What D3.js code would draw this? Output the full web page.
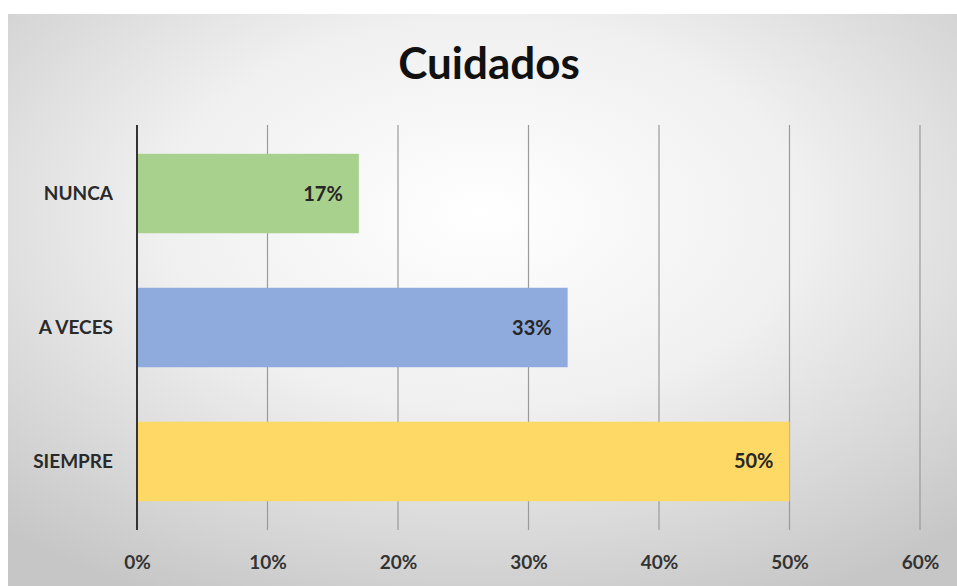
<!DOCTYPE html>
<html><head><meta charset="utf-8">
<script src="https://cdn.jsdelivr.net/npm/d3@7"></script>
<style>html,body{margin:0;padding:0;background:#fff;}svg{display:block;}</style>
</head><body>
<svg id="c" width="957" height="586"></svg>
<script>
const categories = ["NUNCA", "A VECES", "SIEMPRE"];
const values = [0.17, 0.33, 0.50];
const barColors = ["#a9d18e", "#8faadc", "#ffd966"];
const tickValues = [0, 0.1, 0.2, 0.3, 0.4, 0.5, 0.6];
const title = "Cuidados";

const svg = d3.select("#c");
const defs = svg.append("defs");
const rg = defs.append("radialGradient").attr("id","bg").attr("cx","50%").attr("cy","35%").attr("r","75%");
rg.append("stop").attr("offset","0%").attr("stop-color","#ffffff");
rg.append("stop").attr("offset","45%").attr("stop-color","#f0f0f0");
rg.append("stop").attr("offset","100%").attr("stop-color","#c6c6c6");
svg.append("rect").attr("x",8).attr("y",14).attr("width",949).attr("height",572).attr("fill","url(#bg)");

const font = "Lato, 'Open Sans', sans-serif";
svg.append("text").attr("x",489).attr("y",79).attr("text-anchor","middle")
  .attr("font-family",font).attr("font-weight","bold").attr("font-size",44).attr("fill","#111").text(title);

const x = d3.scaleLinear().domain([0,0.6]).range([137,920]);
const y = d3.scaleBand().domain(categories).range([125,530]).paddingInner(0.407).paddingOuter(0.215);

// gridlines
svg.append("g").selectAll("line").data(tickValues.slice(1)).join("line")
  .attr("x1",d=>x(d)).attr("x2",d=>x(d)).attr("y1",125).attr("y2",530)
  .attr("stroke","#9a9a9a").attr("stroke-width",1.2);

svg.append("g").selectAll("rect").data(values).join("rect")
  .attr("x",x(0)).attr("y",(d,i)=>y(categories[i])).attr("width",d=>x(d)-x(0))
  .attr("height",y.bandwidth()).attr("fill",(d,i)=>barColors[i]);

svg.append("g").selectAll("text").data(values).join("text")
  .attr("x",d=>x(d)-16).attr("y",(d,i)=>y(categories[i])+y.bandwidth()/2).attr("dy","0.35em")
  .attr("text-anchor","end").attr("font-family",font).attr("font-weight","bold").attr("font-size",20)
  .attr("fill","#262626").text(d=>d3.format(".0%")(d));

// y axis
const ya = svg.append("g").attr("transform",`translate(${x(0)},0)`).call(d3.axisLeft(y).tickSize(0).tickPadding(24));
ya.select(".domain").attr("stroke","#333").attr("stroke-width",2).attr("d","M0,125V530");
ya.selectAll("text").attr("font-family",font).attr("font-weight","bold").attr("font-size",19).attr("fill","#2a2a2a");

// x axis
const xa = svg.append("g").attr("transform","translate(0,530)")
  .call(d3.axisBottom(x).tickValues(tickValues).tickFormat(d3.format(".0%")).tickSize(0).tickPadding(26));
xa.select(".domain").remove();
xa.selectAll("text").attr("font-family",font).attr("font-weight","bold").attr("font-size",19).attr("fill","#333");
</script>
</body></html>
